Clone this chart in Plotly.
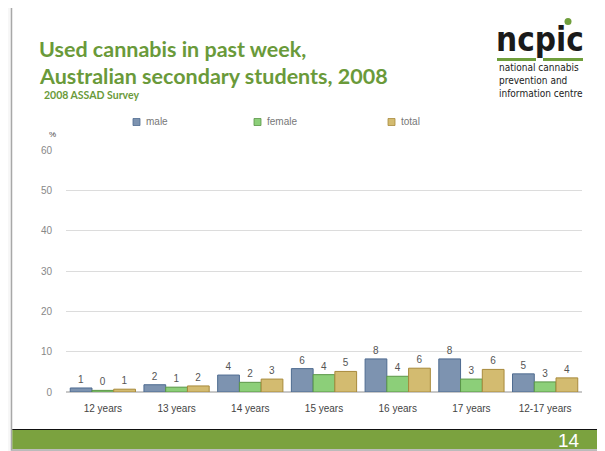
import plotly.graph_objects as go

categories = ["12 years", "13 years", "14 years", "15 years", "16 years", "17 years", "12-17 years"]
male = [1.0, 1.8, 4.2, 5.8, 8.2, 8.2, 4.5]
female = [0.4, 1.2, 2.4, 4.3, 3.9, 3.2, 2.5]
total = [0.7, 1.5, 3.2, 5.1, 5.9, 5.6, 3.5]
series_names = ["male", "female", "total"]
fill_colors = ["#7d93b0", "#8ccf79", "#d3bb70"]
line_colors = ["#4e6b90", "#5a9647", "#a88a3c"]
y_ticks = [0, 10, 20, 30, 40, 50, 60]

# page body has an 8px margin; design coordinates are in window pixels
OFF = 8
W, H = 605 - OFF, 451 - OFF
L, R, T, B = 66, 582, 150, 392  # plot area in window pixels

def px(x):
    return (x - L) / (R - L)

def py(y):
    return (B - y) / (B - T)

fig = go.Figure()
for name, vals, fc, lc in zip(series_names, [male, female, total], fill_colors, line_colors):
    fig.add_trace(go.Bar(
        x=categories, y=vals, name=name,
        marker=dict(color=fc, line=dict(color=lc, width=1)),
        text=[f"{round(v + 1e-9):.0f}" for v in vals],
        textposition="outside",
        textfont=dict(size=10, color="#555555", family="Liberation Sans"),
        cliponaxis=False,
        showlegend=False,
    ))

shapes = []
# slide frame
shapes.append(dict(type="rect", xref="paper", yref="paper",
                   x0=px(11.5), x1=px(603), y0=py(450), y1=py(5),
                   line=dict(color="#a8a8a8", width=1.5), fillcolor="white", layer="below"))
# green footer bar
shapes.append(dict(type="rect", xref="paper", yref="paper",
                   x0=px(12.3), x1=px(602.3), y0=py(449), y1=py(430),
                   line=dict(width=0), fillcolor="#7ba23f", layer="above"))
shapes.append(dict(type="line", xref="paper", yref="paper",
                   x0=px(12.3), x1=px(602.3), y0=py(429.5), y1=py(429.5),
                   line=dict(color="#111111", width=1.2)))
# logo underline and dot
shapes.append(dict(type="line", xref="paper", yref="paper",
                   x0=px(497), x1=px(536), y0=py(59.5), y1=py(59.5),
                   line=dict(color="#6f9e3c", width=3)))
shapes.append(dict(type="line", xref="paper", yref="paper",
                   x0=px(543), x1=px(583), y0=py(59.5), y1=py(59.5),
                   line=dict(color="#6f9e3c", width=3)))
shapes.append(dict(type="circle", xref="paper", yref="paper",
                   x0=px(564.5), x1=px(571.5), y0=py(25), y1=py(18),
                   line=dict(width=0), fillcolor="#6f9e3c"))
# legend swatches
legend_x = [133, 254, 388]
for sx, fc, lc in zip(legend_x, fill_colors, line_colors):
    shapes.append(dict(type="rect", xref="paper", yref="paper",
                       x0=px(sx), x1=px(sx + 7), y0=py(125.5), y1=py(118.5),
                       line=dict(color=lc, width=0.8), fillcolor=fc))

annotations = []
annotations.append(dict(xref="paper", yref="paper", x=px(37), y=py(49), xanchor="left", yanchor="middle",
                        text="<b>Used cannabis in past week,</b>", showarrow=False,
                        font=dict(size=21.5, color="#6a9a3a", family="Lato")))
annotations.append(dict(xref="paper", yref="paper", x=px(37), y=py(76), xanchor="left", yanchor="middle",
                        text="<b>Australian secondary students, 2008</b>", showarrow=False,
                        font=dict(size=21.5, color="#6a9a3a", family="Lato")))
annotations.append(dict(xref="paper", yref="paper", x=px(42), y=py(95.5), xanchor="left", yanchor="middle",
                        text="<b>2008 ASSAD Survey</b>", showarrow=False,
                        font=dict(size=10.5, color="#6a9a3a", family="Lato")))
# logo
annotations.append(dict(xref="paper", yref="paper", x=px(540), y=py(39), xanchor="center", yanchor="middle",
                        text="<b>ncpic</b>", showarrow=False,
                        font=dict(size=33, color="#1a1a1a", family="DejaVu Sans Condensed, Roboto, Liberation Sans")))
annotations.append(dict(xref="paper", yref="paper", x=px(497), y=py(80.5), xanchor="left", yanchor="middle",
                        align="left",
                        text="national cannabis<br>prevention and<br>information centre", showarrow=False,
                        font=dict(size=10, color="#222222", family="DejaVu Sans Condensed, Roboto, Liberation Sans")))
# legend labels
for sx, name in zip(legend_x, series_names):
    annotations.append(dict(xref="paper", yref="paper", x=px(sx + 11), y=py(122), xanchor="left", yanchor="middle",
                            text=name, showarrow=False,
                            font=dict(size=10, color="#777777", family="Liberation Sans")))
# % label
annotations.append(dict(xref="paper", yref="paper", x=px(52), y=py(134), xanchor="center", yanchor="middle",
                        text="%", showarrow=False,
                        font=dict(size=8, color="#444444", family="Liberation Sans")))
# slide number
annotations.append(dict(xref="paper", yref="paper", x=px(582), y=py(440), xanchor="right", yanchor="middle",
                        text="14", showarrow=False,
                        font=dict(size=19, color="white", family="Liberation Sans")))

fig.update_layout(
    width=W, height=H,
    margin=dict(l=L - OFF, r=W - (R - OFF), t=T - OFF, b=H - (B - OFF), pad=0),
    paper_bgcolor="#f7f7f7",
    plot_bgcolor="rgba(0,0,0,0)",
    barmode="group",
    bargap=0.115,
    bargroupgap=0,
    shapes=shapes,
    annotations=annotations,
    xaxis=dict(showgrid=False, showline=True, linecolor="#c8c8c8", linewidth=1,
               tickfont=dict(size=10, color="#444444", family="Liberation Sans"),
               ticks="", ticklabelstandoff=7),
    yaxis=dict(range=[0, 60], tickvals=y_ticks, showgrid=True, gridcolor="#dcdcdc", gridwidth=1,
               zeroline=True, zerolinecolor="#c8c8c8",
               tickfont=dict(size=10, color="#888888", family="Liberation Sans"),
               ticks="", ticklabelstandoff=13),
)

fig.write_html("out.html")
